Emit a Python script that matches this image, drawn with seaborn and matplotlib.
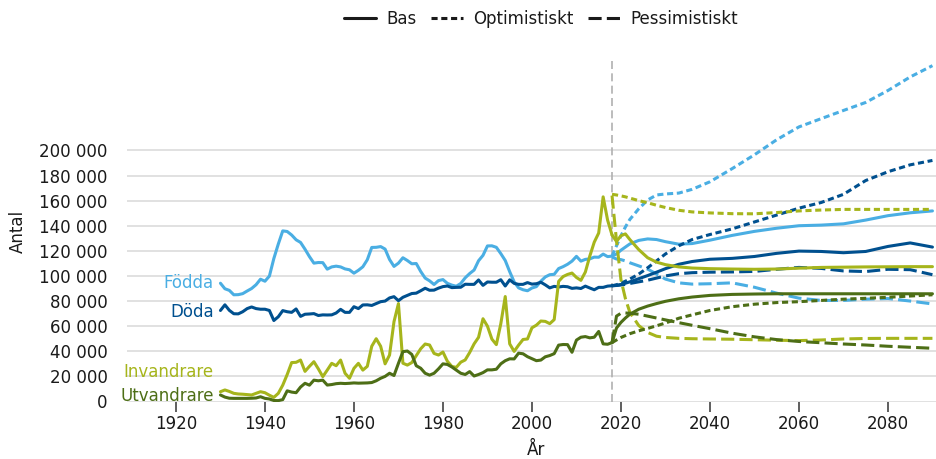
import numpy as np
import pandas as pd
import matplotlib
matplotlib.use("Agg")
import matplotlib.pyplot as plt
import seaborn as sns
from matplotlib.lines import Line2D
from matplotlib.ticker import FuncFormatter

# ---------------- data (thousands of persons) ----------------
HIST_YEARS = list(range(1930, 2019))

FODDA = [94.2, 89.8, 88.5, 85.0, 85.1, 85.9, 88.0, 90.0, 93.0, 97.4,
         95.8, 99.9, 113.9, 125.4, 135.9, 135.4, 132.6, 128.8, 126.7, 121.3,
         115.4, 110.2, 110.7, 110.6, 105.4, 107.2, 107.8, 107.2, 105.6, 104.9,
         102.2, 104.5, 107.3, 112.9, 122.7, 122.8, 123.4, 121.4, 113.1, 107.6,
         110.2, 114.5, 112.3, 109.7, 109.9, 103.6, 98.3, 96.1, 93.2, 96.3,
         97.1, 94.1, 92.7, 91.8, 94.0, 98.5, 101.9, 104.7, 112.1, 116.4,
         123.9, 124.0, 122.8, 117.8, 112.3, 103.4, 95.3, 90.5, 89.0, 88.2,
         90.4, 91.5, 95.8, 99.2, 101.0, 101.3, 105.9, 107.4, 109.3, 111.8,
         115.6, 111.8, 113.2, 113.6, 115.0, 114.9, 117.4, 115.4, 115.8]

DODA = [72.5, 77.0, 72.6, 69.9, 69.8, 71.5, 74.0, 75.3, 74.0, 73.5,
        73.5, 72.5, 64.5, 67.5, 72.4, 71.5, 71.0, 73.7, 67.8, 69.5,
        69.7, 70.0, 68.5, 69.0, 68.9, 69.0, 70.5, 73.4, 71.0, 71.0,
        75.5, 74.0, 76.9, 77.0, 76.5, 78.0, 79.5, 80.0, 82.5, 83.5,
        80.3, 83.0, 84.5, 86.0, 86.3, 88.2, 90.2, 88.6, 88.7, 90.3,
        91.5, 92.0, 90.7, 90.9, 91.0, 93.4, 93.3, 93.3, 96.8, 92.5,
        95.2, 95.0, 95.0, 97.0, 92.0, 96.9, 94.1, 93.3, 93.3, 94.7,
        93.5, 93.8, 95.0, 92.9, 90.5, 91.7, 91.2, 91.7, 91.4, 90.1,
        90.5, 90.0, 91.9, 90.4, 89.0, 90.9, 90.9, 91.9, 92.2]

INVANDRARE = [7.8, 9.2, 8.0, 6.5, 6.0, 5.8, 5.5, 5.2, 6.5, 7.8,
              7.0, 5.0, 3.3, 6.5, 13.0, 21.5, 31.0, 31.2, 33.0, 24.0,
              28.0, 31.7, 26.0, 19.8, 25.0, 30.4, 28.5, 33.0, 22.5, 18.5,
              26.4, 30.4, 25.0, 28.0, 44.0, 50.0, 44.0, 30.0, 37.0, 63.6,
              78.0, 30.5, 29.0, 31.0, 36.5, 42.0, 45.8, 45.0, 38.3, 37.0,
              39.4, 32.0, 27.9, 27.2, 31.3, 33.1, 39.0, 45.9, 51.1, 65.9,
              60.0, 49.7, 45.3, 61.9, 83.6, 45.9, 39.9, 44.9, 49.4, 49.8,
              58.7, 60.8, 64.1, 63.8, 62.0, 65.2, 95.7, 99.5, 101.2, 102.3,
              98.8, 96.5, 103.1, 115.8, 126.9, 134.2, 163.0, 144.5, 132.6]

UTVANDRARE = [5.2, 3.5, 2.6, 2.5, 2.5, 2.5, 2.5, 2.6, 2.8, 3.8,
              2.5, 2.0, 0.8, 0.7, 1.5, 8.5, 7.5, 7.0, 11.5, 14.5,
              13.0, 17.0, 16.5, 17.0, 13.1, 13.5, 14.2, 14.5, 14.3, 14.5,
              14.8, 14.6, 14.7, 14.8, 15.1, 16.5, 18.5, 20.0, 22.5, 20.7,
              30.4, 39.7, 40.2, 37.5, 28.5, 26.5, 22.5, 21.0, 22.5, 26.0,
              30.0, 29.5, 27.5, 25.0, 22.5, 21.5, 23.8, 20.3, 21.5, 23.0,
              25.2, 25.2, 25.7, 30.0, 32.5, 34.0, 33.9, 38.5, 38.0, 35.7,
              34.1, 32.5, 33.0, 35.6, 36.6, 38.1, 44.9, 45.4, 45.3, 39.2,
              48.9, 51.2, 51.7, 50.7, 51.2, 55.8, 45.9, 45.6, 46.9]

PROJ_YEARS = [2018, 2019, 2020, 2021, 2022, 2024, 2026, 2028, 2030, 2033, 2036,
              2040, 2045, 2050, 2055, 2060, 2065, 2070, 2075, 2080, 2085, 2090]

FODDA_BAS = [115.8, 117.5, 120.5, 123.0, 125.5, 128.3, 129.5, 129.0, 127.3, 125.3, 125.8,
             128.5, 132.3, 135.5, 138.0, 140.0, 140.5, 141.5, 144.5, 148.0, 150.3, 151.8]
FODDA_OPT = [115.8, 124.0, 132.0, 139.0, 145.0, 153.5, 160.5, 164.5, 165.3, 166.0, 169.0,
             175.0, 185.5, 196.5, 208.5, 218.7, 225.3, 231.8, 238.2, 247.7, 258.5, 267.5]
FODDA_PES = [115.0, 113.5, 113.0, 112.0, 110.5, 108.0, 105.5, 101.5, 97.5, 94.5, 93.5,
             93.8, 94.5, 91.0, 86.3, 82.3, 80.5, 80.5, 81.5, 82.0, 80.0, 77.7]

DODA_BAS = [92.2, 92.5, 93.2, 94.2, 95.3, 97.8, 100.3, 103.0, 105.8, 109.3, 111.5,
            113.3, 114.0, 115.5, 118.0, 119.8, 119.5, 118.5, 119.5, 123.5, 126.3, 123.0]
DODA_OPT = [92.2, 93.0, 94.2, 95.8, 97.5, 101.5, 106.5, 112.0, 117.5, 124.0, 129.0,
            133.0, 137.5, 143.0, 148.5, 154.0, 158.5, 165.0, 176.0, 183.0, 188.5, 192.0]
DODA_PES = [92.2, 92.4, 92.8, 93.3, 94.0, 95.3, 96.6, 98.3, 100.0, 101.8, 102.6,
            103.0, 103.2, 103.6, 105.3, 106.8, 106.0, 104.0, 103.5, 105.3, 105.0, 101.0]

INV_BAS = [132.6, 127.5, 132.0, 133.5, 129.0, 121.0, 114.5, 111.0, 109.0, 107.2, 106.3,
           105.8, 105.5, 105.3, 105.5, 106.2, 106.8, 107.0, 107.2, 107.3, 107.4, 107.4]
INV_OPT = [165.0, 164.5, 163.8, 163.0, 162.0, 160.0, 158.3, 156.3, 154.5, 152.3, 151.0,
           150.2, 149.6, 149.5, 150.5, 151.8, 152.5, 153.0, 153.0, 153.0, 153.0, 153.0]
INV_PES = [164.0, 128.0, 97.0, 82.0, 71.0, 60.5, 55.0, 52.0, 51.0, 50.3, 50.0,
           49.8, 49.6, 49.2, 48.8, 48.5, 49.0, 49.8, 50.2, 50.3, 50.3, 50.3]

UTV_BAS = [46.9, 58.5, 63.0, 66.5, 69.5, 73.5, 76.0, 78.0, 79.8, 81.8, 83.2,
           84.5, 85.3, 85.6, 85.8, 85.8, 85.8, 85.8, 85.8, 85.8, 85.8, 85.8]
UTV_OPT = [46.9, 49.0, 51.0, 52.5, 54.0, 56.3, 58.2, 60.3, 62.5, 66.3, 69.0,
           72.5, 75.5, 77.5, 78.8, 79.5, 80.5, 81.5, 82.2, 83.0, 84.0, 85.0]
UTV_PES = [46.9, 68.0, 70.3, 70.5, 70.3, 69.5, 68.0, 66.5, 65.0, 62.8, 60.7,
           58.0, 54.4, 51.5, 49.3, 47.8, 46.8, 45.8, 45.0, 44.0, 43.2, 42.4]

SERIES = ["Födda", "Döda", "Invandrare", "Utvandrare"]
SCENARIOS = ["Bas", "Optimistiskt", "Pessimistiskt"]
X_TICKS = [1920, 1940, 1960, 1980, 2000, 2020, 2040, 2060, 2080]
Y_TICKS = [0, 20000, 40000, 60000, 80000, 100000, 120000, 140000, 160000, 180000, 200000]
PROJECTION_START = 2018

# ---------------- styles ----------------
COLORS = {"Födda": "#4aaee3", "Döda": "#00508f",
          "Invandrare": "#a6b51c", "Utvandrare": "#4d6e16"}
LINESTYLES = {"Bas": "-", "Optimistiskt": (0, (2.0, 1.2)), "Pessimistiskt": (0, (4.3, 1.7))}
LABEL_POS = {"Födda": 94400, "Döda": 71600, "Invandrare": 23500, "Utvandrare": 4600}

hist = {"Födda": FODDA, "Döda": DODA, "Invandrare": INVANDRARE, "Utvandrare": UTVANDRARE}
proj = {
    "Födda": {"Bas": FODDA_BAS, "Optimistiskt": FODDA_OPT, "Pessimistiskt": FODDA_PES},
    "Döda": {"Bas": DODA_BAS, "Optimistiskt": DODA_OPT, "Pessimistiskt": DODA_PES},
    "Invandrare": {"Bas": INV_BAS, "Optimistiskt": INV_OPT, "Pessimistiskt": INV_PES},
    "Utvandrare": {"Bas": UTV_BAS, "Optimistiskt": UTV_OPT, "Pessimistiskt": UTV_PES},
}

rows = []
for s in SERIES:
    for y, v in zip(HIST_YEARS, hist[s]):
        rows.append({"År": y, "Antal": v * 1000, "serie": s, "scenario": "Historik"})
    for sc in SCENARIOS:
        for y, v in zip(PROJ_YEARS, proj[s][sc]):
            rows.append({"År": y, "Antal": v * 1000, "serie": s, "scenario": sc})
df = pd.DataFrame(rows)

# ---------------- plotting ----------------
sns.set_theme(style="white")
plt.rcParams["font.family"] = ["DejaVu Sans"]
TXT = "#1a1a1a"

fig = plt.figure(figsize=(9.36, 4.59), dpi=100)
W, H = 936, 459
ax = fig.add_axes([127 / W, 1 - 401.5 / H, (936 - 127) / W, (401.5 - 60) / H])

LW = 2.2
for s in SERIES:
    sub = df[(df.serie == s) & (df.scenario == "Historik")]
    sns.lineplot(data=sub, x="År", y="Antal", ax=ax, color=COLORS[s], lw=LW,
                 linestyle="-", legend=False, estimator=None)
    for sc in SCENARIOS:
        sub = df[(df.serie == s) & (df.scenario == sc)]
        sns.lineplot(data=sub, x="År", y="Antal", ax=ax, color=COLORS[s], lw=LW,
                     linestyle=LINESTYLES[sc], legend=False, estimator=None)

ax.axvline(PROJECTION_START, color="#b0b0b0", lw=1.2, linestyle=(0, (4.8, 2.6)), zorder=1)

ax.set_xlim(1909, 2090.8)
ax.set_ylim(0, 272000)
ax.set_xticks(X_TICKS)
ax.set_yticks(Y_TICKS)
ax.yaxis.set_major_formatter(FuncFormatter(lambda v, p: f"{int(v):,}".replace(",", " ")))
ax.yaxis.grid(True, color="#dcdcdc", lw=1.2)
ax.xaxis.grid(False)
ax.set_axisbelow(True)
for sp in ax.spines.values():
    sp.set_visible(False)
ax.tick_params(axis="x", length=7, width=1.1, color="#333333", labelsize=12,
               labelcolor=TXT, pad=3, direction="out", bottom=True)
ax.tick_params(axis="y", length=0, pad=14, labelsize=12, labelcolor=TXT)
ax.set_xlabel("")
ax.set_ylabel("")

for s in SERIES:
    ax.text(1928.5, LABEL_POS[s], s, ha="right", va="center", color=COLORS[s], fontsize=12)

fig.text(18 / W, 1 - 231 / H, "Antal", rotation=90, ha="center", va="center",
         fontsize=12, color=TXT)
fig.text(536 / W, 1 - 450 / H, "År", ha="center", va="center", fontsize=12, color=TXT)

handles = [Line2D([], [], color="#1a1a1a", lw=LW, linestyle=LINESTYLES[sc]) for sc in SCENARIOS]
fig.legend(handles, SCENARIOS, loc="center", bbox_to_anchor=(541 / W, 1 - 19 / H), ncol=3,
           frameon=False, fontsize=12, handlelength=1.9, handletextpad=0.6,
           columnspacing=0.9, labelcolor=TXT)

fig.savefig("out.png", dpi=100)
